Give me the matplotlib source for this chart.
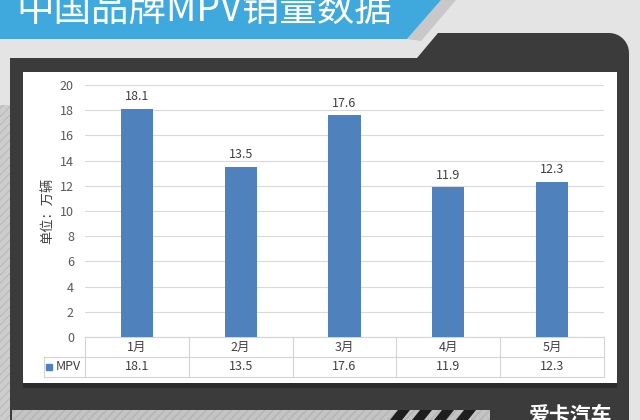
import numpy as np
import matplotlib
matplotlib.use("Agg")
import matplotlib.pyplot as plt
from matplotlib.patches import Polygon, Rectangle
from matplotlib.transforms import Affine2D

plt.rcParams['font.family'] = ['Noto Sans CJK SC', 'DejaVu Sans']

# ---- data ----
title = "中国品牌MPV销量数据"
months = ["1月", "2月", "3月", "4月", "5月"]
series_name = "MPV"
sales = [18.1, 13.5, 17.6, 11.9, 12.3]
y_ticks = [0, 2, 4, 6, 8, 10, 12, 14, 16, 18, 20]
y_label = "单位：万辆"
logo = "爱卡汽车"

W, H = 640, 420
fig = plt.figure(figsize=(W / 100, H / 100), dpi=100)
fig.patch.set_facecolor("#e4e4e4")
px = Affine2D().scale(1 / W, -1 / H).translate(0, 1) + fig.transFigure


def poly(pts, **kw):
    fig.add_artist(Polygon(pts, closed=True, transform=px, zorder=-5, **kw))


def rect(x, y, w, h, **kw):
    fig.add_artist(Rectangle((x, y), w, h, transform=px, zorder=-5, **kw))


# left hatched strip
rect(0, 105, 11, 315, facecolor="#cdcdcd", edgecolor="#bdbdbd", hatch="////", lw=0)

# blue banner + bevel
poly([(456, 0), (441, 0), (407, 39), (421, 41)], facecolor="#c8c8c8", lw=0)
poly([(0, 0), (441, 0), (407, 39), (0, 39)], facecolor="#3fa9dd", lw=0)
fig.text(16 / W, 1 - 21 / H, title, color="white", fontsize=27,
         ha="left", va="baseline")

# dark panel with rounded top-right corner
r = 20
ang = np.linspace(np.pi / 2, 0, 12)
corner = [(629 - r + r * np.cos(a), 33 + r - r * np.sin(a)) for a in ang]
pts = [(10, 420), (10, 58), (417, 58), (438, 33)] + corner + [(629, 420)]
poly(pts, facecolor="#3b3b3b", lw=0)

# bottom gray band with stripes
rect(12, 410, 478, 10, facecolor="#c4c4c4", edgecolor="#b4b4b4", hatch="////", lw=0)
for x0 in [390, 412, 434, 456]:
    poly([(x0 + 8, 410), (x0 + 20, 410), (x0 + 12, 420), (x0, 420)],
         facecolor="#1e1e1e", lw=0)
fig.text(570 / W, 1 - 416 / H, logo, color="white", fontsize=15,
         fontweight="bold", ha="center", va="center")

# white chart panel
rect(23, 72, 594, 311, facecolor="white", lw=0)
rect(23, 383, 594, 5, facecolor="#2c2c2c", lw=0)

# ---- axes ----
ax = fig.add_axes([85 / W, 1 - 337 / H, 519 / W, 252 / H])
ax.set_zorder(5)
ax.set_facecolor("none")
x = np.arange(len(months))
bar_color = "#4f81bd"
bars = ax.bar(x, sales, width=0.31, color=bar_color, zorder=3)
ax.set_xlim(-0.5, len(months) - 0.5)
ax.set_ylim(0, 20)
ax.set_yticks(y_ticks)
ax.set_yticklabels([str(t) for t in y_ticks], fontsize=9, color="#595959")
ax.tick_params(axis="y", length=0, pad=8)
ax.set_xticks([])
ax.grid(axis="y", color="#d9d9d9", lw=0.8, zorder=0)
for s in ax.spines.values():
    s.set_visible(False)
ax.set_ylabel(y_label, fontsize=9.5, color="#404040", labelpad=4)

for xi, v in zip(x, sales):
    ax.annotate(f"{v}", (xi, v), xytext=(0, 4), textcoords="offset points",
                ha="center", va="bottom", fontsize=9, color="#404040")

# ---- data table below axes ----
tr = ax.get_xaxis_transform()  # x in data, y in axes
row_h = 20 / 252
line_kw = dict(color="#d4d4d4", lw=0.8, clip_on=False, transform=tr)
left_col = -0.5 - 41 / (519 / len(months))
n = len(months)
ax.plot([-0.5, n - 0.5], [0, 0], **line_kw)
ax.plot([left_col, n - 0.5], [-row_h, -row_h], **line_kw)
ax.plot([left_col, n - 0.5], [-2 * row_h, -2 * row_h], **line_kw)
ax.plot([left_col, left_col], [-row_h, -2 * row_h], **line_kw)
for b in np.arange(-0.5, n, 1.0):
    ax.plot([b, b], [0, -2 * row_h], **line_kw)

for xi, m, v in zip(x, months, sales):
    ax.text(xi, -0.5 * row_h, m, transform=tr, ha="center", va="center",
            fontsize=9, color="#404040")
    ax.text(xi, -1.5 * row_h, f"{v}", transform=tr, ha="center", va="center",
            fontsize=9, color="#404040")

# legend key in the table
ax.plot([left_col + 0.05], [-1.5 * row_h], marker="s", ms=5, color=bar_color,
        transform=tr, clip_on=False, lw=0)
ax.text(left_col + 0.115, -1.5 * row_h, series_name, transform=tr,
        ha="left", va="center", fontsize=9, color="#404040")

fig.savefig("out.png", dpi=100)
